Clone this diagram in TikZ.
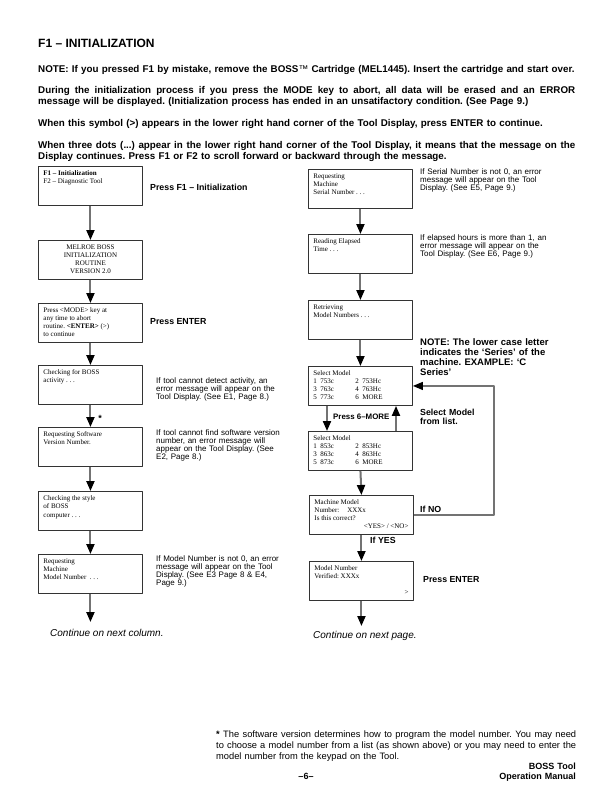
\documentclass[tikz,border=0pt]{standalone}
\usepackage{fontspec}
\setmainfont{Liberation Sans}
\newfontfamily\scrserif{Liberation Serif}
\usetikzlibrary{arrows.meta}
\frenchspacing

% text of one tool display, top aligned in a fixed box
\newcommand{\scrbox}[1]{\parbox[t][31pt][t]{94pt}{\raggedright #1}}
\newcommand{\modelpair}[2]{\makebox[42pt][l]{#1}#2}
% one justified line of running text
\newcommand{\fullline}[2]{\makebox[#1][s]{\spaceskip=0.28em plus 1fil minus 0.1em\relax #2}}

\begin{document}
\begin{tikzpicture}[x=1pt,y=-1pt,line join=round,
  screen/.style={draw=black!80,line width=0.9pt,anchor=north west,inner xsep=5pt,inner ysep=4pt,font=\scrserif\fontsize{7}{8}\selectfont},
  flow/.style={-{Triangle[length=10pt,width=8pt,color=black]},black!55,line width=2pt},
  loopline/.style={-{Triangle[length=10pt,width=8pt,color=black]},black!55,line width=1.3pt},
  para/.style={anchor=base west,inner sep=0pt,text width=560pt,align=left,font=\bfseries\fontsize{9.8}{11}\selectfont},
  note/.style={anchor=base west,inner sep=0pt,text width=150pt,align=left,font=\fontsize{8}{8}\selectfont},
  lbl/.style={anchor=base west,inner sep=0pt,align=left,font=\bfseries\fontsize{8.8}{9.5}\selectfont},
  bignote/.style={anchor=base west,inner sep=0pt,text width=170pt,align=left,font=\bfseries\fontsize{9.5}{10}\selectfont},
  cont/.style={anchor=base west,inner sep=0pt,font=\itshape\fontsize{10}{11}\selectfont}]
\useasboundingbox[fill=white] (0,0) rectangle (612,792);

% heading and notes
\node[anchor=base west,inner sep=0pt,font=\bfseries\fontsize{12}{14}\selectfont] (title) at (38,48) {F1 – INITIALIZATION};
\node[para] (mistake) at (38,72.5) {NOTE: If you pressed F1 by mistake, remove the BOSS{\mdseries™} Cartridge (MEL1445). Insert the cartridge and start over.};
\node[para] (abortpara) at (38,93.5) {\fullline{537pt}{During the initialization process if you press the MODE key to abort, all data will be erased and an ERROR}\\message will be displayed. (Initialization process has ended in an unsatifactory condition. (See Page 9.)};
\node[para] (enterpara) at (38,126.5) {When this symbol (>) appears in the lower right hand corner of the Tool Display, press ENTER to continue.};
\node[para] (dotspara) at (38,148.5) {\fullline{537pt}{When three dots (...) appear in the lower right hand corner of the Tool Display, it means that the message on the}\\Display continues. Press F1 or F2 to scroll forward or backward through the message.};

% left column
\node[screen] (init) at (38,166) {\scrbox{\textbf{F1 – Initialization}\\F2 – Diagnostic Tool}};
\node[screen] (melroe) at (38,240) {\scrbox{\centering MELROE BOSS\\INITIALIZATION\\ROUTINE\\VERSION 2.0}};
\node[screen] (abort) at (38,303) {\scrbox{Press <MODE> key at\\any time to abort\\routine. \textbf{<ENTER>} (>)\\to continue}};
\node[screen] (activity) at (38,365) {\scrbox{Checking for BOSS\\activity . . .}};
\node[screen] (software) at (38,427) {\scrbox{Requesting Software\\Version Number.}};
\node[screen] (style) at (38,491) {\scrbox{Checking the style\\of BOSS\\[1pt]computer . . .}};
\node[screen] (model) at (38,554) {\scrbox{Requesting\\Machine\\Model Number\ \ . . .}};
\coordinate (leftend) at (model.south |- 0,622);
\draw[flow] (init.south) -- (melroe.north);
\draw[flow] (melroe.south) -- (abort.north);
\draw[flow] (abort.south) -- (activity.north);
\draw[flow] (activity.south) -- (software.north);
\draw[flow] (software.south) -- (style.north);
\draw[flow] (style.south) -- (model.north);
\draw[flow] (model.south) -- (leftend);
\node[font=\bfseries\fontsize{9}{9}\selectfont,inner sep=0pt] (star) at (100,418) {*};
\node[lbl] (pressf1) at (150,190) {Press F1 – Initialization};
\node[lbl] (enter1) at (150,324) {Press ENTER};
\node[note] (activitynote) at (156,383) {If tool cannot detect activity, an\\error message will appear on the\\Tool Display. (See E1, Page 8.)};
\node[note] (softwarenote) at (156,435) {If tool cannot find software version\\number, an error message will\\appear on the Tool Display. (See\\E2, Page 8.)};
\node[note] (modelnote) at (156,561) {If Model Number is not 0, an error\\message will appear on the Tool\\Display. (See E3 Page 8 \& E4,\\Page 9.)};
\node[cont] (nextcol) at (50,636) {Continue on next column.};

% right column
\node[screen] (serial) at (308,169) {\scrbox{Requesting\\Machine\\Serial Number . . .}};
\node[screen] (elapsed) at (308,234) {\scrbox{Reading Elapsed\\Time . . .}};
\node[screen] (retrieve) at (308,300) {\scrbox{Retrieving\\Model Numbers . . .}};
\node[screen] (select1) at (308,366) {\scrbox{Select Model\\\modelpair{1\ \ 753c}{2\ \ 753Hc}\\\modelpair{3\ \ 763c}{4\ \ 763Hc}\\\modelpair{5\ \ 773c}{6\ \ MORE}}};
\node[screen] (select2) at (308,431) {\scrbox{Select Model\\\modelpair{1\ \ 853c}{2\ \ 853Hc}\\\modelpair{3\ \ 863c}{4\ \ 863Hc}\\\modelpair{5\ \ 873c}{6\ \ MORE}}};
\node[screen] (confirm) at (309,495) {\scrbox{Machine Model\\Number:\hspace{8pt}XXXx\\Is this correct?\\\hspace*{\fill}<YES> / <NO>}};
\node[screen] (verified) at (309,561) {\scrbox{Model Number\\Verified: XXXx\\\mbox{}\\\hspace*{\fill}>}};
\coordinate (rightend) at (verified.south |- 0,626);
\draw[flow] (serial.south) -- (elapsed.north);
\draw[flow] (elapsed.south) -- (retrieve.north);
\draw[flow] (retrieve.south) -- (select1.north);
\draw[flow] ([xshift=19pt]select1.south west) -- ([xshift=19pt]select2.north west);
\draw[flow] ([xshift=88pt]select2.north west) -- ([xshift=88pt]select1.south west);
\draw[flow] (select2.south) -- (confirm.north);
\draw[flow] (confirm.south) -- (verified.north);
\draw[flow] (verified.south) -- (rightend);
\draw[loopline] (confirm.east) -- ++(80,0) |- (select1.east);
\node[note] (serialnote) at (420,174) {If Serial Number is not 0, an error\\message will appear on the Tool\\Display. (See E5, Page 9.)};
\node[note] (elapsednote) at (420,240) {If elapsed hours is more than 1, an\\error message will appear on the\\Tool Display. (See E6, Page 9.)};
\node[bignote] (seriesnote) at (420,345.5) {NOTE: The lower case letter\\indicates the ‘Series’ of the\\machine. EXAMPLE: ‘C\\Series’};
\node[lbl,text width=90pt] (fromlist) at (420,415) {Select Model\\from list.};
\node[lbl,font=\bfseries\fontsize{7.9}{9}\selectfont] (more) at (333,419) {Press 6–MORE};
\node[lbl] (ifno) at (420,512) {If NO};
\node[lbl] (ifyes) at (370,543) {If YES};
\node[lbl] (enter2) at (423,582) {Press ENTER};
\node[cont] (nextpage) at (313,638) {Continue on next page.};

% footnote and page foot
\node[anchor=base west,inner sep=0pt,text width=360pt,align=left,font=\fontsize{9.3}{11}\selectfont] (footnote) at (216,737) {\fullline{360pt}{\textbf{*} The software version determines how to program the model number. You may need}\\\fullline{360pt}{to choose a model number from a list (as shown above) or you may need to enter the}\\model number from the keypad on the Tool.};
\node[anchor=base,inner sep=0pt,font=\bfseries\fontsize{9}{10}\selectfont] (pagenum) at (306,779) {–6–};
\node[anchor=base east,inner sep=0pt,text width=120pt,align=right,font=\bfseries\fontsize{9}{10}\selectfont] (manual) at (576,769) {BOSS Tool\\Operation Manual};
\end{tikzpicture}
\end{document}
